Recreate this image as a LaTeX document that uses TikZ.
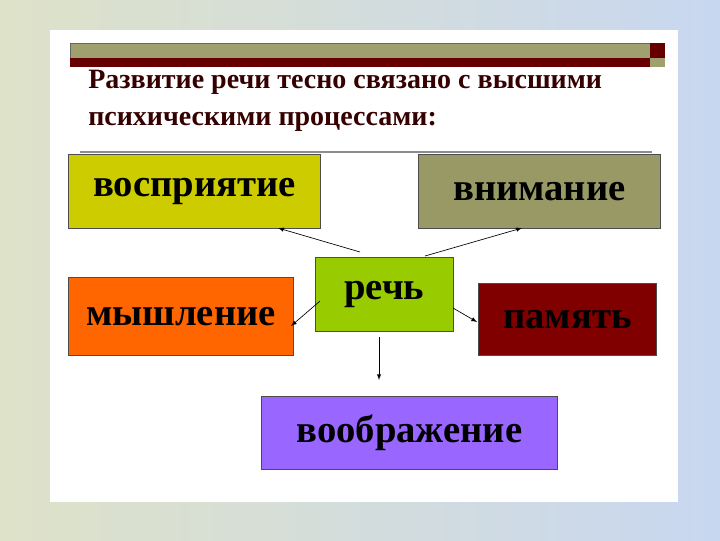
\documentclass[tikz,border=0pt]{standalone}
\usepackage{fontspec}
\setmainfont{Liberation Serif}
\begin{document}
\begin{tikzpicture}[x=0.75pt,y=-0.75pt,
  box/.style={draw=black!70, line width=0.6pt, inner sep=0pt},
  lbl/.style={font=\bfseries\fontsize{29}{32}\selectfont},
  arr/.style={-latex, line width=0.5pt}]
\useasboundingbox (0,0) rectangle (720,540);
\definecolor{bgl}{RGB}{222,226,200}
\definecolor{bgr}{RGB}{200,215,240}
\shade[left color=bgl, right color=bgr] (0,0) rectangle (720,540);
\fill[white] (50,30) rectangle (678,502);
% top bar
\fill[fill={rgb,255:red,160;green,160;blue,110}, draw=black!60, line width=0.3pt] (70,43) rectangle (650,58);
\fill[fill={rgb,255:red,102;green,0;blue,0}] (70,58) rectangle (650,67);
\fill[fill={rgb,255:red,102;green,0;blue,0}] (650,43) rectangle (665,58);
\fill[fill={rgb,255:red,160;green,160;blue,110}] (650,58) rectangle (665,67);
\node[anchor=north west, align=left, inner sep=0pt, text={rgb,255:red,55;green,0;blue,0}, font=\bfseries\fontsize{21}{28}\selectfont] (title) at (88,70) {Развитие речи тесно связано с высшими\\психическими процессами:};
\draw[black!45, line width=1pt] (80,152) -- (652,152);
% boxes
\node[box, fill={rgb,255:red,204;green,204;blue,0}, minimum width=252*0.75pt, minimum height=74*0.75pt, anchor=north west, lbl] (v) at (68,154) {восприятие};
\node[box, fill={rgb,255:red,153;green,153;blue,102}, minimum width=242*0.75pt, minimum height=74*0.75pt, anchor=north west, lbl] (vn) at (418,154) {внимание};
\node[box, fill={rgb,255:red,153;green,204;blue,0}, minimum width=138*0.75pt, minimum height=74*0.75pt, anchor=north west, lbl] (r) at (315,257) {речь};
\node[box, fill={rgb,255:red,255;green,102;blue,0}, minimum width=225*0.75pt, minimum height=78*0.75pt, anchor=north west, lbl] (m) at (68,277) {мышление};
\node[box, fill={rgb,255:red,128;green,0;blue,0}, minimum width=178*0.75pt, minimum height=72*0.75pt, anchor=north west, lbl] (p) at (478,283) {\raisebox{-6pt}{память}};
\node[box, fill={rgb,255:red,153;green,102;blue,255}, minimum width=296*0.75pt, minimum height=73*0.75pt, anchor=north west, lbl] (vo) at (261,396) {воображение};
% connector start points
\coordinate (s1) at (360,252);
\coordinate (s2) at (425,256);
\coordinate (s3) at (320,301);
\coordinate (s4) at (453,308);
\coordinate (s5) at (379,337);
\coordinate (e1) at (278,228);
\coordinate (e2) at (522,228);
\coordinate (e3) at (291,326);
\coordinate (e4) at (477,322);
\coordinate (e5) at (379,380);
\draw[arr] (s1) -- (e1);
\draw[arr] (s2) -- (e2);
\draw[arr] (s3) -- (e3);
\draw[arr] (s4) -- (e4);
\draw[arr] (s5) -- (e5);
\end{tikzpicture}
\end{document}
